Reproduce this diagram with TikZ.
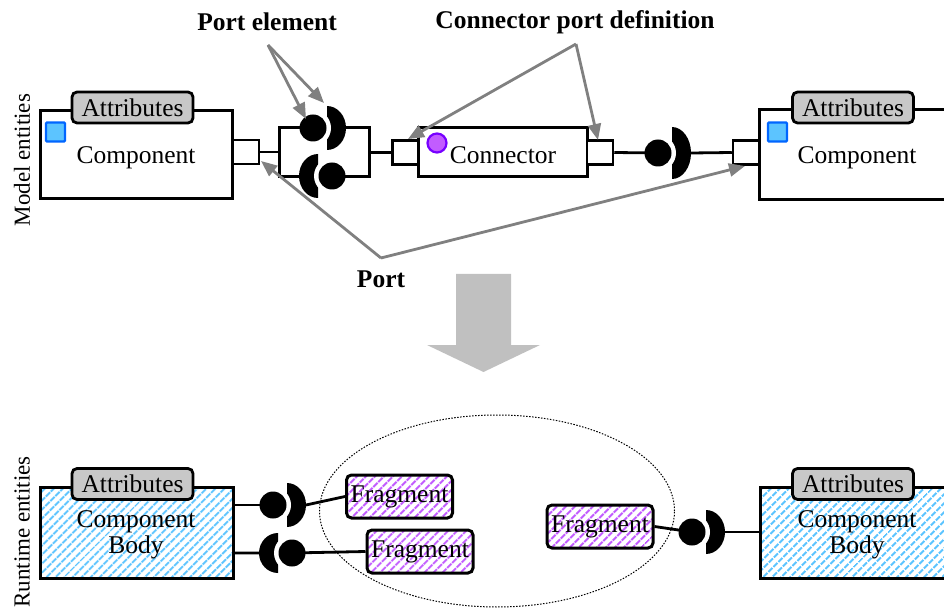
\documentclass[tikz,border=0pt]{standalone}
\usepackage{fontspec}
\setmainfont{Liberation Serif}
\usetikzlibrary{arrows.meta,patterns.meta,shapes.geometric}
\definecolor{arrgray}{HTML}{808080}
\definecolor{bigarr}{HTML}{C0C0C0}
\definecolor{tabgray}{HTML}{C8C8C8}
\definecolor{blueh}{HTML}{5CC4FF}
\definecolor{blueb}{HTML}{0066FF}
\definecolor{purph}{HTML}{C25CFF}
\definecolor{purpb}{HTML}{7700FF}
\newcommand\lblfont{\fontsize{25.5}{26}\selectfont}
\newcommand\sidefont{\fontsize{23}{24}\selectfont}
\tikzset{
  pics/portel/.style={code={
    \fill[black] (14,-#1) arc[start angle=-90,end angle=90,x radius=19,y radius=#1] -- cycle;
    \begin{scope}\clip (0,-40) rectangle (50,40); \fill[white] (0,0) circle (18); \end{scope}
    \fill[black] (0,0) circle (13.5);
    \coordinate (-b) at (0,0);
    \coordinate (-s) at (33,0);
  }},
  pics/portel/.default=22,
  box/.style={draw,line width=3pt,fill=white,inner sep=0pt},
  tab/.style={draw,line width=2.8pt,fill=tabgray,rounded corners=5pt,minimum width=121pt,minimum height=31pt,inner sep=0pt,font=\lblfont},
  portsq/.style={draw,line width=2.5pt,fill=white,minimum width=26pt,minimum height=24pt,inner sep=0pt},
  wire/.style={line width=2.8pt},
  callout/.style={draw=arrgray,line width=2.8pt,-{Triangle[length=16pt,width=13pt]}},
  lbl/.style={font=\lblfont,inner sep=0pt},
  blbl/.style={font=\lblfont\bfseries,inner sep=0pt},
  sq/.style={draw=blueb,fill=blueh,line width=2.2pt,minimum width=19pt,minimum height=19pt,inner sep=0pt,rounded corners=1pt},
  frag/.style={draw,line width=3pt,rounded corners=5pt,pattern={Lines[angle=45,distance=6.5pt,line width=2.3pt]},pattern color=purph,minimum width=106pt,minimum height=43pt,inner sep=0pt,font=\lblfont},
  body/.style={draw,line width=3pt,pattern={Lines[angle=45,distance=6.5pt,line width=2.3pt]},pattern color=blueh,inner sep=0pt,font=\lblfont,align=center}
}
\begin{document}
\begin{tikzpicture}[x=1pt,y=-1pt]
\useasboundingbox (0,0) rectangle (944,609);
\clip (0,0) rectangle (944,609);

% side labels
\node[font=\sidefont,rotate=90,inner sep=0pt] (mlab) at (22,160) {Model entities};
\node[font=\sidefont,rotate=90,inner sep=0pt] (rlab) at (22,532) {Runtime entities};

% ---------- model level ----------
\node[box,minimum width=192pt,minimum height=88pt] (comp1) at (136,155) {};
\node[tab] (tab1) at (132.5,107.5) {Attributes};
\node[sq] (sq1) at (55.5,132) {};
\node[lbl] (c1t) at (136,158) {Component};
\node[portsq] (lp) at (246,152) {};

\node[box,minimum width=202pt,minimum height=90pt] (comp2) at (860,155) {};
\node[tab] (tab2) at (853,107.5) {Attributes};
\node[sq] (sq2) at (777.5,132) {};
\node[lbl] (c2t) at (857,158) {Component};
\node[portsq] (rp) at (746,152.5) {};

\node[box,minimum width=169pt,minimum height=49pt] (conn) at (502.5,152.5) {};
\node[draw=purpb,fill=purph,circle,line width=2.2pt,minimum size=19pt,inner sep=0pt] (pc) at (437,143) {};
\node[lbl] (connt) at (503,155) {Connector};
\node[portsq] (cl) at (405.5,152.5) {};
\node[portsq] (cr) at (600,152.5) {};

% port element group
\node[draw,line width=3pt,minimum width=90pt,minimum height=49pt,inner sep=0pt] (grp) at (324,152.5) {};
\draw[wire] (lp.east) -- (lp.east -| grp.west);
\draw[wire] (grp.east) -- (grp.east -| cl.west);
\pic (pe1) at (313,128) {portel};
\pic[rotate=180] (pe2) at (332,176) {portel};

\pic (pe3) at (658,153) {portel=26};
\draw[wire] (cr.east) -- (pe3-b);
\draw[wire] (pe3-s) -- (rp.west);

% ---------- big arrow ----------
\fill[bigarr] (456,274) -- (511,274) -- (511,345) -- (540,345) -- (483.5,372) -- (427,345) -- (456,345) -- cycle;

% ---------- runtime level ----------
\node[draw,dash pattern=on 1.5pt off 1.5pt,line width=1pt,ellipse,minimum width=355pt,minimum height=192pt] (ell) at (497,511) {};

\node[body,minimum width=193pt,minimum height=91pt] (body1) at (136.5,532.5) {};
\node[tab] (tab3) at (132.5,484) {Attributes};
\node[lbl,align=center] (b1t) at (136,535) {Component\\Body};

\node[body,minimum width=200pt,minimum height=91pt] (body2) at (860,532.5) {};
\node[tab] (tab4) at (853,484) {Attributes};
\node[lbl,align=center] (b2t) at (857,535) {Component\\Body};

\node[frag] (f1) at (399.5,496.5) {Fragment};
\node[frag] (f2) at (420,551.5) {Fragment};
\node[frag] (f3) at (600,526.5) {Fragment};

\coordinate (p4) at (273,505);
\coordinate (p5) at (292,553);
\coordinate (p6) at (692,532);
\draw[wire] (body1.east |- p4) -- (p4);
\draw[wire] (body1.east |- p5) -- (p5) -- (f2.west);
\draw[wire] (f3.east) -- (p6);
\pic (pe4) at (p4) {portel};
\pic[rotate=180] (pe5) at (p5) {portel=20};
\pic (pe6) at (p6) {portel};
\draw[wire] (pe4-s) -- (f1.west);
\draw[wire] (pe6-s) -- (body2.west |- pe6-s);

% ---------- callouts ----------
\node[blbl] (pel) at (267,22) {Port element};
\node[blbl] (cpd) at (575,22) {Connector port definition};
\node[blbl] (portl) at (381,279) {Port};
\coordinate (peA) at (268,45);
\coordinate (peT1) at (306,119);
\coordinate (peT2) at (324,103);
\coordinate (cpA) at (576,44);
\coordinate (cpT1) at (408,139);
\coordinate (cpT2) at (598,140);
\coordinate (poA) at (381,258);
\coordinate (poT1) at (261,161);
\coordinate (poT2) at (745,166);
\draw[callout] (peA) -- (peT1);
\draw[callout] (peA) -- (peT2);
\draw[callout] (cpA) -- (cpT1);
\draw[callout] (cpA) -- (cpT2);
\draw[callout] (poA) -- (poT1);
\draw[callout] (poA) -- (poT2);
\end{tikzpicture}
\end{document}
